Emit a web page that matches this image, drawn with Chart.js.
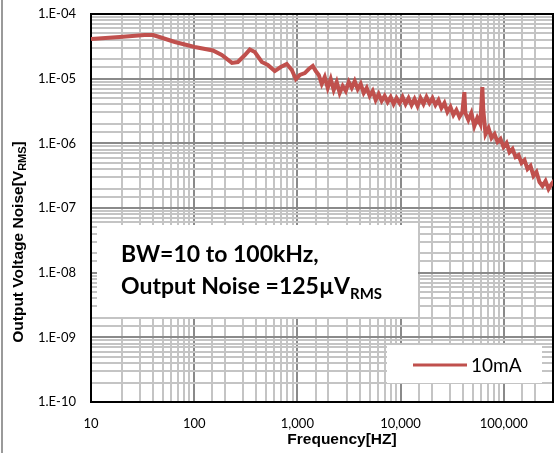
<!DOCTYPE html>
<html>
<head>
<meta charset="utf-8">
<script src="https://cdn.jsdelivr.net/npm/chart.js@4.4.1/dist/chart.umd.min.js"></script>
<style>
  html, body { margin: 0; padding: 0; background: #fff; }
  #wrap { width: 555px; height: 453px; position: relative; }
</style>
</head>
<body>
<div id="wrap"><canvas id="noiseChart"></canvas></div>
<script>
// Output noise spectrum
const freqHz = [
  10, 19, 33, 40, 46, 65, 101, 152, 185, 232, 265, 310, 346, 387, 452, 517, 604, 690, 789, 883,
  966, 1055, 1180, 1290, 1410, 1507, 1611, 1722, 1841, 1968, 2104, 2249, 2404, 2570, 2748, 2943,
  3146, 3363, 3595, 3843, 4108, 4392, 4695, 5019, 5365, 5735, 6131, 6554, 7006, 7490, 8007, 8559,
  9150, 9781, 10456, 11177, 11948, 12773, 13654, 14596, 15603, 16680, 17830, 19061, 20376, 21781,
  23284, 24890, 26607, 28443, 30405, 32503, 34745, 37142, 39705, 41500, 42445, 45373, 48503,
  51849, 55427, 59251, 62000, 63339, 66600, 71200, 76100, 81400, 87000, 93000, 99500, 106400,
  113700, 121600, 130000, 139000, 148600, 158900, 169900, 181600, 194100, 207500, 221900,
  237200, 254000, 271500, 290200, 310000
];
const noiseVrms = [
  4.10e-5, 4.41e-5, 4.73e-5, 4.73e-5, 4.41e-5, 3.69e-5, 3.09e-5, 2.73e-5, 2.32e-5, 1.75e-5,
  1.81e-5, 2.32e-5, 2.82e-5, 2.58e-5, 1.81e-5, 1.63e-5, 1.31e-5, 1.51e-5, 1.69e-5, 1.36e-5,
  9.9e-6, 1.14e-5, 1.22e-5, 1.41e-5, 1.57e-5, 1.31e-5, 1.14e-5, 8.3e-6, 1.06e-5, 7.2e-6,
  9.9e-6, 6.7e-6, 8.9e-6, 6.0e-6, 7.7e-6, 6.45e-6, 8.9e-6, 7.2e-6, 9.2e-6, 6.9e-6,
  8.3e-6, 6.0e-6, 7.2e-6, 5.4e-6, 6.45e-6, 4.68e-6, 5.8e-6, 4.52e-6, 5.4e-6, 4.36e-6,
  5.2e-6, 4.06e-6, 5.0e-6, 4.2e-6, 5.2e-6, 4.06e-6, 5.0e-6, 3.92e-6, 4.85e-6, 3.78e-6,
  5.0e-6, 4.06e-6, 5.2e-6, 4.2e-6, 5.0e-6, 3.92e-6, 4.68e-6, 3.52e-6, 4.2e-6, 3.05e-6,
  3.65e-6, 2.74e-6, 3.27e-6, 2.56e-6, 3.05e-6, 6.2e-6, 2.94e-6, 2.3e-6, 2.94e-6, 1.85e-6,
  2.47e-6, 1.99e-6, 7.4e-6, 3.27e-6, 1.39e-6, 1.72e-6, 1.21e-6, 1.39e-6, 1.05e-6, 1.17e-6,
  8.8e-7, 1.01e-6, 7.3e-7, 8.2e-7, 6.15e-7, 6.6e-7, 4.97e-7, 5.5e-7, 4.0e-7, 4.47e-7,
  3.13e-7, 3.6e-7, 2.52e-7, 2.19e-7, 2.62e-7, 1.97e-7, 2.35e-7, 2.7e-7
];
const seriesLabel = '10mA';
const xLimits = [10, 300000];
const yLimits = [1e-10, 1e-4];
const noteLines = ['BW=10 to 100kHz,', 'Output Noise =125\u00b5V'];

const lineColor = '#c0504d';

function isDecade(v) {
  const l = Math.log10(v);
  return Math.abs(l - Math.round(l)) < 1e-6;
}

function gridColor(ctx) {
  if (!ctx.tick) return '#c4c4c4';
  return isDecade(ctx.tick.value) ? '#8a8a8a' : '#c4c4c4';
}

// background, frame, border, note box, legend, axis titles
const decorPlugin = {
  id: 'decor',
  beforeDraw(chart) {
    const c = chart.ctx;
    c.save();
    c.fillStyle = '#fff';
    c.fillRect(0, 0, chart.width, chart.height);
    c.fillStyle = '#9a9a9a';
    c.fillRect(1, 0, 2, chart.height);
    c.restore();
  },
  beforeDatasetsDraw(chart) {
    const a = chart.chartArea, c = chart.ctx;
    c.save();
    c.strokeStyle = '#000';
    c.lineWidth = 2;
    c.strokeRect(a.left, a.top, a.right - a.left, a.bottom - a.top);
    c.restore();
  },
  afterDatasetsDraw(chart) {
    const c = chart.ctx;
    c.save();
    // note box
    c.fillStyle = '#fff';
    c.fillRect(97, 225, 321, 92);
    c.fillStyle = '#000';
    c.font = 'bold 23px Lato';
    c.textBaseline = 'alphabetic';
    c.fillText(noteLines[0], 121, 262);
    c.fillText(noteLines[1], 121, 294);
    const w = c.measureText(noteLines[1]).width;
    c.font = 'bold 15px Lato';
    c.fillText('RMS', 121 + w, 299);

    // legend
    const ds = chart.data.datasets[0];
    c.fillStyle = '#fff';
    c.fillRect(387, 345, 155, 38);
    c.strokeStyle = ds.borderColor;
    c.lineWidth = 3;
    c.beginPath();
    c.moveTo(413, 365);
    c.lineTo(467, 365);
    c.stroke();
    c.fillStyle = '#000';
    c.font = '19px Lato';
    c.textBaseline = 'middle';
    c.fillText(ds.label, 471, 366);

    // x title
    c.font = 'bold 15.5px "Liberation Sans"';
    c.textAlign = 'center';
    c.fillText('Frequency[HZ]', 342, 440);

    // y title with subscript
    c.translate(19, 242);
    c.rotate(-Math.PI / 2);
    const main = 'Output Voltage Noise[V';
    c.font = 'bold 15.5px "Liberation Sans"';
    const mw = c.measureText(main).width;
    c.font = 'bold 11px "Liberation Sans"';
    const sw = c.measureText('RMS').width;
    c.font = 'bold 15.5px "Liberation Sans"';
    const bw = c.measureText(']').width;
    let x0 = -(mw + sw + bw) / 2;
    c.textAlign = 'left';
    c.fillText(main, x0, 0);
    c.font = 'bold 11px "Liberation Sans"';
    c.fillText('RMS', x0 + mw, 4);
    c.font = 'bold 15.5px "Liberation Sans"';
    c.fillText(']', x0 + mw + sw, 0);
    c.restore();
  }
};

const ctx = document.getElementById('noiseChart').getContext('2d');
const noiseChart = new Chart(ctx, {
  type: 'line',
  data: {
    datasets: [{
      label: seriesLabel,
      data: freqHz.map((f, i) => ({ x: f, y: noiseVrms[i] })),
      borderColor: lineColor,
      backgroundColor: lineColor,
      borderWidth: 4,
      pointRadius: 0,
      tension: 0,
      fill: false
    }]
  },
  options: {
    responsive: true,
    maintainAspectRatio: false,
    animation: false,
    layout: { padding: { top: 14, right: 2, left: 0, bottom: 0 } },
    plugins: {
      legend: { display: false },
      tooltip: { enabled: false }
    },
    scales: {
      x: {
        type: 'logarithmic',
        min: xLimits[0],
        max: xLimits[1],
        border: { display: false },
        grid: { color: gridColor, lineWidth: 2, drawTicks: false },
        ticks: {
          autoSkip: false,
          maxRotation: 0,
          padding: 14,
          color: '#000',
          font: { family: 'Lato', size: 13 },
          callback: v => isDecade(v) ? Math.round(v).toLocaleString('en-US') : ''
        },
        afterFit: s => { s.height = 51; s.paddingLeft = 0; s.paddingRight = 0; }
      },
      y: {
        type: 'logarithmic',
        min: yLimits[0],
        max: yLimits[1],
        border: { display: false },
        grid: { color: gridColor, lineWidth: 2, drawTicks: false },
        ticks: {
          autoSkip: false,
          padding: 15,
          color: '#000',
          font: { family: 'Lato', size: 13 },
          callback: v => {
            if (!isDecade(v)) return '';
            const e = Math.round(Math.log10(v));
            return '1.E' + (e < 0 ? '-' : '+') + String(Math.abs(e)).padStart(2, '0');
          }
        },
        afterFit: s => { s.width = 91; s.paddingTop = 0; s.paddingBottom = 0; }
      }
    }
  },
  plugins: [decorPlugin]
});
</script>
</body>
</html>
